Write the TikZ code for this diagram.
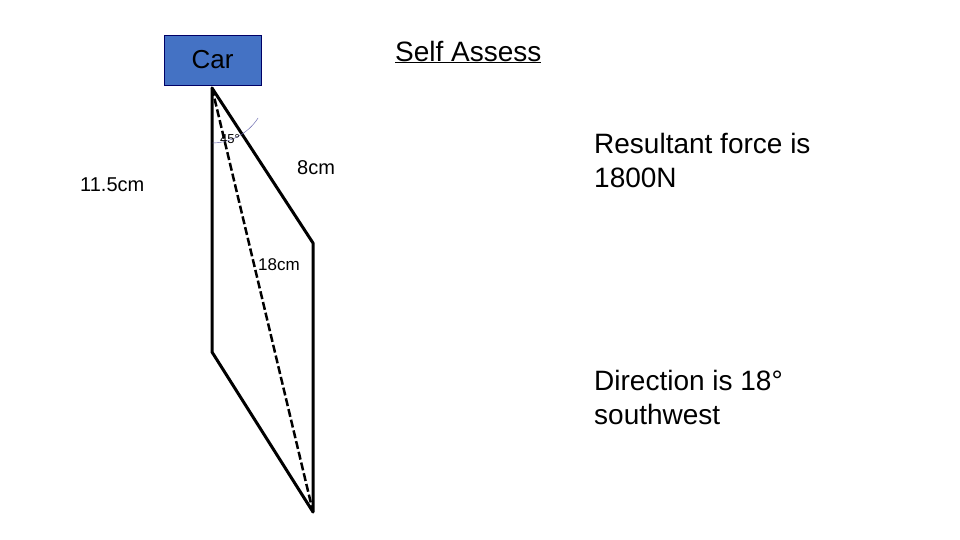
\documentclass[tikz,border=0pt]{standalone}
\usepackage{fontspec}
\setmainfont{Liberation Sans}
\begin{document}
\begin{tikzpicture}[x=1pt,y=-1pt,
  lbl/.style={inner sep=0pt,anchor=west},
  side/.style={line width=3pt,line join=round}]
\useasboundingbox (0,0) rectangle (960,540);
\node[draw=blue!40!black,fill={rgb,255:red,68;green,114;blue,196},minimum width=97pt,minimum height=50pt,inner sep=0pt,font=\fontsize{26}{30}\selectfont] (car) at (212.5,60) {Car};
\coordinate (t) at (212,88);
\coordinate (r) at (313,243);
\coordinate (b) at (313,512);
\coordinate (l) at (212,352);
\draw[side] (t) -- (r) -- (b) -- (l) -- cycle;
\draw[line width=2.5pt,dash pattern=on 8pt off 3pt] (t) -- (b);
\draw[gray!70!blue,thin] (212,143) arc[start angle=90,end angle=33,radius=55];
\node[lbl,font=\fontsize{13}{15}\selectfont] (a45) at (220,139) {45°};
\node[lbl,font=\fontsize{20}{24}\selectfont] (s8) at (297,168) {8cm};
\node[lbl,font=\fontsize{20}{24}\selectfont] (s11) at (80,185) {11.5cm};
\node[lbl,font=\fontsize{17}{20}\selectfont] (s18) at (258,265) {18cm};
\node[lbl,font=\fontsize{28}{32}\selectfont] (ti) at (395,52) {\underline{Self Assess}};
\node[lbl,font=\fontsize{28}{34}\selectfont,align=left] (res) at (594,160) {Resultant force is\\1800N};
\node[lbl,font=\fontsize{28}{34}\selectfont,align=left] (dir) at (594,397) {Direction is 18°\\southwest};
\end{tikzpicture}
\end{document}
